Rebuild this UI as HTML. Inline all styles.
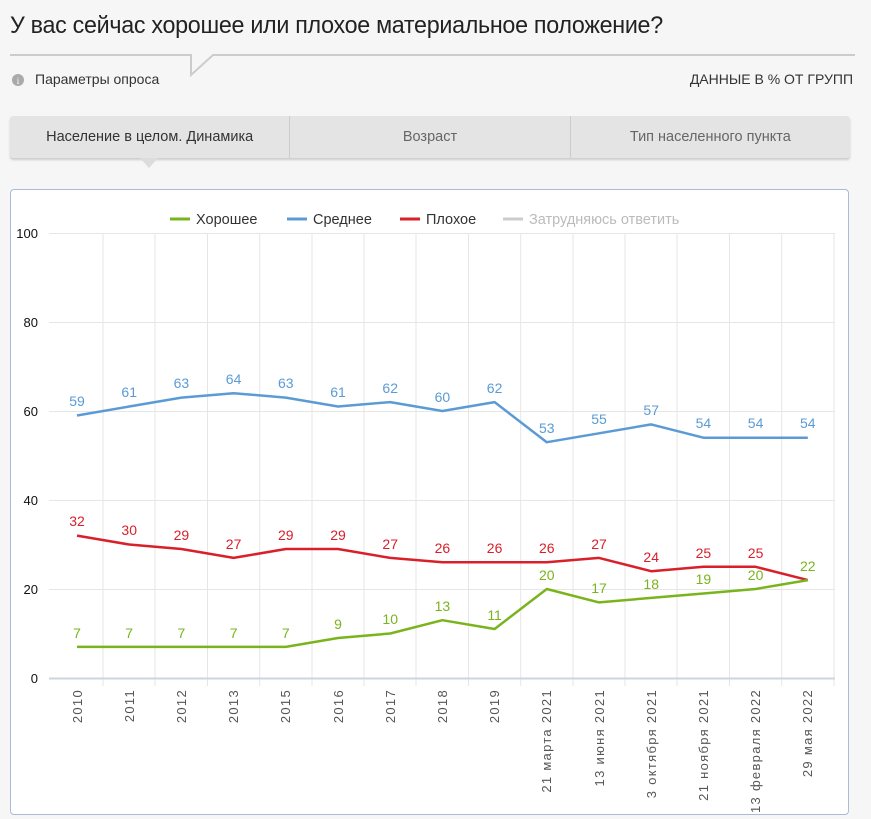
<!DOCTYPE html>
<html><head><meta charset="utf-8"><style>
body{margin:0;width:871px;height:819px;background:#f6f6f6;font-family:"Liberation Sans",sans-serif;overflow:hidden;position:relative}
.t{position:absolute;left:10px;top:12px;font-size:24px;color:#222;letter-spacing:-0.3px;transform:scaleX(0.97);transform-origin:0 0;white-space:nowrap}
.tabs{position:absolute;left:10px;top:116px;width:840px;height:42px;background:#e4e4e4;border-radius:3px;box-shadow:0 2px 2px #ccc;display:flex}
.tabs div{flex:1;text-align:center;line-height:42px;font-size:14.5px;color:#666;border-left:1px solid #ccc}
.tabs div:first-child{border-left:none;color:#333}
.panel{position:absolute;left:10px;top:189px;width:837px;height:624px;background:#fff;border:1px solid #a8bcd8;border-radius:4px}
</style></head><body>
<div class="t">У вас сейчас хорошее или плохое материальное положение?</div>
<svg style="position:absolute;left:0;top:0" width="871" height="110">
<polyline points="10,55 191,55 191,75 213,55 855,55" fill="none" stroke="#ccc" stroke-width="2"/>
<circle cx="18" cy="80" r="6" fill="#aaa"/><text x="18" y="84" font-size="9" fill="#fff" text-anchor="middle" font-family="Liberation Serif">i</text>
<text x="35" y="84" font-size="14" fill="#333">Параметры опроса</text>
<text x="853" y="84" font-size="14" fill="#333" text-anchor="end">ДАННЫЕ В % ОТ ГРУПП</text>
</svg>
<div class="tabs"><div>Население в целом. Динамика</div><div>Возраст</div><div>Тип населенного пункта</div></div>
<svg style="position:absolute;left:140px;top:158px" width="20" height="12"><polygon points="0,0 18,0 9,10" fill="#dcdcdc"/></svg>
<div class="panel"></div>
<svg style="position:absolute;left:0;top:0" width="871" height="819" font-family="Liberation Sans,sans-serif">
<g font-size="14.5">
<line x1="170" y1="219" x2="190" y2="219" stroke="#7ab41d" stroke-width="3"/><text x="196" y="224" fill="#333">Хорошее</text>
<line x1="287" y1="219" x2="307" y2="219" stroke="#5b9bd5" stroke-width="3"/><text x="313" y="224" fill="#333">Среднее</text>
<line x1="400" y1="219" x2="420" y2="219" stroke="#d9202a" stroke-width="3"/><text x="426" y="224" fill="#333">Плохое</text>
<line x1="503" y1="219" x2="523" y2="219" stroke="#ccc" stroke-width="3"/><text x="529" y="224" fill="#bbb">Затрудняюсь ответить</text>
</g>
<g stroke="#e6e6e6" stroke-width="1">
<line x1="49" y1="233.5" x2="835" y2="233.5"/><line x1="49" y1="322.5" x2="835" y2="322.5"/><line x1="49" y1="411.5" x2="835" y2="411.5"/><line x1="49" y1="500.5" x2="835" y2="500.5"/><line x1="49" y1="589.5" x2="835" y2="589.5"/>
<line x1="103" y1="233" x2="103" y2="686"/><line x1="155" y1="233" x2="155" y2="686"/><line x1="207.5" y1="233" x2="207.5" y2="686"/><line x1="259.7" y1="233" x2="259.7" y2="686"/><line x1="312" y1="233" x2="312" y2="686"/><line x1="364" y1="233" x2="364" y2="686"/><line x1="416" y1="233" x2="416" y2="686"/><line x1="468.5" y1="233" x2="468.5" y2="686"/><line x1="520.7" y1="233" x2="520.7" y2="686"/><line x1="573" y1="233" x2="573" y2="686"/><line x1="625" y1="233" x2="625" y2="686"/><line x1="677" y1="233" x2="677" y2="686"/><line x1="729.5" y1="233" x2="729.5" y2="686"/><line x1="781.7" y1="233" x2="781.7" y2="686"/><line x1="834" y1="233" x2="834" y2="686"/>
</g>
<line x1="49" y1="678.5" x2="835" y2="678.5" stroke="#ccd6e0" stroke-width="2"/>
<g font-size="13" fill="#111" text-anchor="end">
<text x="38" y="238">100</text><text x="38" y="327">80</text><text x="38" y="416">60</text><text x="38" y="505">40</text><text x="38" y="594">20</text><text x="38" y="683">0</text>
</g>
<g fill="none" stroke-width="2.5" stroke-linejoin="round">
<polyline stroke="#5b9bd5" points="77,415.5 129.2,406.5 181.4,397.6 233.6,393.2 285.8,397.6 338,406.5 390.2,402.1 442.4,411 494.6,402.1 546.8,442.2 599,433.3 651.2,424.4 703.4,437.7 755.6,437.7 807.8,437.7"/>
<polyline stroke="#d9202a" points="77,535.6 129.2,544.5 181.4,549 233.6,557.9 285.8,549 338,549 390.2,557.9 442.4,562.3 494.6,562.3 546.8,562.3 599,557.9 651.2,571.2 703.4,566.8 755.6,566.8 807.8,580.1"/>
<polyline stroke="#7ab41d" points="77,646.9 129.2,646.9 181.4,646.9 233.6,646.9 285.8,646.9 338,638 390.2,633.5 442.4,620.2 494.6,629 546.8,589 599,602.4 651.2,597.9 703.4,593.5 755.6,589 807.8,580.1"/>
</g>
<g font-size="14" text-anchor="middle">
<g fill="#5b9bd5"><text x="77" y="406">59</text><text x="129.2" y="397">61</text><text x="181.4" y="388">63</text><text x="233.6" y="384">64</text><text x="285.8" y="388">63</text><text x="338" y="397">61</text><text x="390.2" y="393">62</text><text x="442.4" y="402">60</text><text x="494.6" y="393">62</text><text x="546.8" y="433">53</text><text x="599" y="424">55</text><text x="651.2" y="415">57</text><text x="703.4" y="428">54</text><text x="755.6" y="428">54</text><text x="807.8" y="428">54</text></g>
<g fill="#d9202a"><text x="77" y="526">32</text><text x="129.2" y="535">30</text><text x="181.4" y="540">29</text><text x="233.6" y="549">27</text><text x="285.8" y="540">29</text><text x="338" y="540">29</text><text x="390.2" y="549">27</text><text x="442.4" y="553">26</text><text x="494.6" y="553">26</text><text x="546.8" y="553">26</text><text x="599" y="549">27</text><text x="651.2" y="562">24</text><text x="703.4" y="558">25</text><text x="755.6" y="558">25</text></g>
<g fill="#7ab41d"><text x="77" y="638">7</text><text x="129.2" y="638">7</text><text x="181.4" y="638">7</text><text x="233.6" y="638">7</text><text x="285.8" y="638">7</text><text x="338" y="629">9</text><text x="390.2" y="624">10</text><text x="442.4" y="611">13</text><text x="494.6" y="620">11</text><text x="546.8" y="580">20</text><text x="599" y="593">17</text><text x="651.2" y="589">18</text><text x="703.4" y="584">19</text><text x="755.6" y="580">20</text><text x="807.8" y="571">22</text></g>
</g>
<g font-size="13" fill="#555" text-anchor="end" letter-spacing="1.3">
<text transform="translate(82,689) rotate(-90)">2010</text>
<text transform="translate(134,689) rotate(-90)">2011</text>
<text transform="translate(186,689) rotate(-90)">2012</text>
<text transform="translate(238,689) rotate(-90)">2013</text>
<text transform="translate(290,689) rotate(-90)">2015</text>
<text transform="translate(343,689) rotate(-90)">2016</text>
<text transform="translate(395,689) rotate(-90)">2017</text>
<text transform="translate(447,689) rotate(-90)">2018</text>
<text transform="translate(499,689) rotate(-90)">2019</text>
<text transform="translate(551,689) rotate(-90)">21 марта 2021</text>
<text transform="translate(604,689) rotate(-90)">13 июня 2021</text>
<text transform="translate(656,689) rotate(-90)">3 октября 2021</text>
<text transform="translate(708,689) rotate(-90)">21 ноября 2021</text>
<text transform="translate(760,689) rotate(-90)">13 февраля 2022</text>
<text transform="translate(812,689) rotate(-90)">29 мая 2022</text>
</g>
</svg>
</body></html>
